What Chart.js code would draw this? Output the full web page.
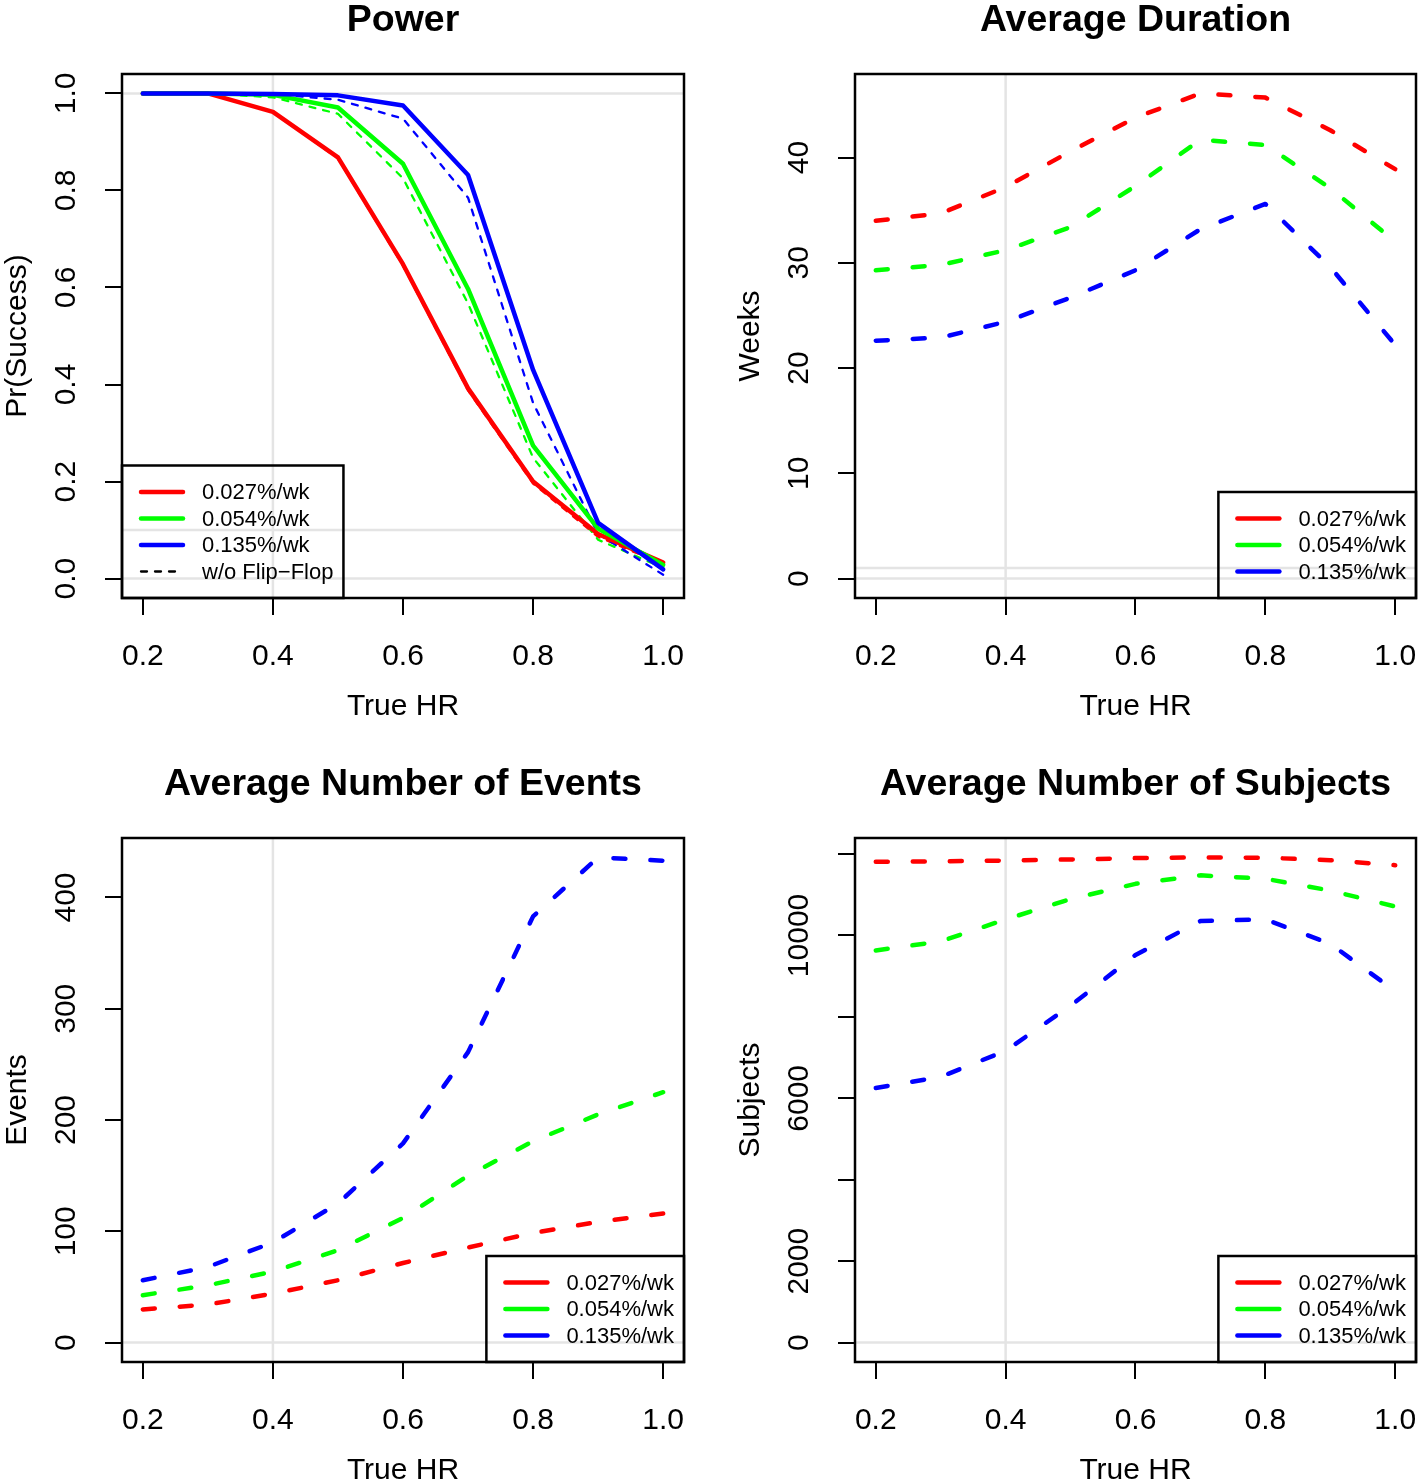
<!DOCTYPE html>
<html>
<head>
<meta charset="utf-8">
<script src="https://cdn.jsdelivr.net/npm/chart.js@4.4.1/dist/chart.umd.min.js"></script>
<style>
  html, body { margin: 0; padding: 0; background: #fff; }
  #page { position: relative; width: 1424px; height: 1480px; overflow: hidden; background: #fff; }
  #page canvas { position: absolute; }
</style>
</head>
<body>
<div id="page">
  <canvas id="power" width="712" height="740" style="left:0;top:0"></canvas>
  <canvas id="duration" width="712" height="740" style="left:712px;top:0"></canvas>
  <canvas id="events" width="712" height="740" style="left:0;top:740px"></canvas>
  <canvas id="subjects" width="712" height="740" style="left:712px;top:740px"></canvas>
</div>
<script>
// x values (true hazard ratio) and the three dropout rates
const trueHR = [0.2, 0.3, 0.4, 0.5, 0.6, 0.7, 0.8, 0.9, 1.0];
const rateLabels = ['0.027%/wk', '0.054%/wk', '0.135%/wk'];
const rateColors = ['#ff0000', '#00ff00', '#0000ff'];

// Power: with flip-flop (solid) and without (dashed)
const powerLow = [1.000, 1.000, 0.962, 0.868, 0.648, 0.392, 0.200, 0.092, 0.033];
const powerMid = [1.000, 1.000, 0.997, 0.971, 0.855, 0.597, 0.274, 0.103, 0.028];
const powerHigh = [1.000, 1.000, 0.999, 0.996, 0.975, 0.832, 0.430, 0.115, 0.019];
const powerLowNoFF = [1.000, 1.000, 0.962, 0.866, 0.645, 0.388, 0.196, 0.086, 0.030];
const powerMidNoFF = [1.000, 1.000, 0.992, 0.958, 0.825, 0.567, 0.249, 0.080, 0.022];
const powerHighNoFF = [1.000, 1.000, 0.999, 0.987, 0.948, 0.785, 0.362, 0.092, 0.008];

// Average duration (weeks)
const weeksLow = [34.0, 34.7, 37.2, 40.6, 43.8, 46.1, 45.7, 42.6, 38.9];
const weeksMid = [29.3, 29.8, 31.2, 33.4, 37.3, 41.7, 41.2, 37.1, 32.0];
const weeksHigh = [22.6, 22.9, 24.4, 26.7, 29.3, 33.2, 35.6, 29.6, 22.2];

// Average number of events
const eventsLow = [29.8, 34.2, 44.0, 56.0, 71.5, 85.5, 98.5, 108.5, 116];
const eventsMid = [42.6, 51.5, 63.8, 83.0, 112, 150, 181, 205, 225];
const eventsHigh = [56, 68, 90, 125, 179, 261, 383, 436, 433];

// Average number of subjects
const subjLow = [11810, 11820, 11840, 11867, 11900, 11917, 11909, 11850, 11725];
const subjMid = [9630, 9855, 10395, 10894, 11268, 11476, 11393, 11102, 10711];
const subjHigh = [6254, 6528, 7168, 8274, 9522, 10353, 10395, 9796, 8632];

// tick values and labels
const hrTicks = [0.2, 0.4, 0.6, 0.8, 1.0];
const hrTickLabels = ['0.2', '0.4', '0.6', '0.8', '1.0'];
const powerTicks = [0, 0.2, 0.4, 0.6, 0.8, 1.0];
const powerTickLabels = ['0.0', '0.2', '0.4', '0.6', '0.8', '1.0'];
const weekTicks = [0, 10, 20, 30, 40];
const weekTickLabels = ['0', '10', '20', '30', '40'];
const eventTicks = [0, 100, 200, 300, 400];
const eventTickLabels = ['0', '100', '200', '300', '400'];
const subjTicks = [0, 2000, 4000, 6000, 8000, 10000, 12000];
const subjTickLabels = ['0', '2000', '', '6000', '', '10000', ''];

const FONT = '"Liberation Sans", Arial, Helvetica, sans-serif';
const W = 712, H = 740;

// draws the R-like frame: reference lines, box, labels, titles, legend
function rFrame(o) {
  return {
    id: 'rFrame',
    beforeDatasetsDraw(chart) {
      const { ctx, chartArea: a, scales: { x, y } } = chart;
      ctx.save();
      ctx.beginPath();
      ctx.rect(a.left, a.top, a.width, a.height);
      ctx.clip();
      ctx.strokeStyle = '#e4e4e4';
      ctx.lineWidth = 2.5;
      o.refH.forEach(v => {
        const py = y.getPixelForValue(v);
        ctx.beginPath(); ctx.moveTo(a.left, py); ctx.lineTo(a.right, py); ctx.stroke();
      });
      o.refV.forEach(v => {
        const px = x.getPixelForValue(v);
        ctx.beginPath(); ctx.moveTo(px, a.top); ctx.lineTo(px, a.bottom); ctx.stroke();
      });
      ctx.restore();
    },
    afterDraw(chart) {
      const { ctx, chartArea: a, scales: { x, y } } = chart;
      ctx.save();
      ctx.strokeStyle = '#000';
      ctx.lineWidth = 2.5;
      ctx.strokeRect(a.left, a.top, a.width, a.height);

      ctx.fillStyle = '#000';
      // main title
      ctx.font = 'bold 37.5px ' + FONT;
      ctx.textAlign = 'center';
      ctx.textBaseline = 'alphabetic';
      ctx.fillText(o.title, (a.left + a.right) / 2, a.top - 43);

      // x tick labels + title
      ctx.font = '30px ' + FONT;
      ctx.textBaseline = 'middle';
      hrTicks.forEach((v, i) => ctx.fillText(hrTickLabels[i], x.getPixelForValue(v), a.bottom + 59));
      ctx.fillText('True HR', (a.left + a.right) / 2, a.bottom + 109);

      // y tick labels, rotated like R
      o.yTicks.forEach((v, i) => {
        if (!o.yLabels[i]) return;
        ctx.save();
        ctx.translate(a.left - 55, y.getPixelForValue(v));
        ctx.rotate(-Math.PI / 2);
        ctx.fillText(o.yLabels[i], 0, 0);
        ctx.restore();
      });
      ctx.save();
      ctx.translate(a.left - 104, (a.top + a.bottom) / 2);
      ctx.rotate(-Math.PI / 2);
      ctx.fillText(o.yTitle, 0, 0);
      ctx.restore();

      // legend
      ctx.font = '22px ' + FONT;
      const tw = Math.max(...o.legend.map(it => ctx.measureText(it.label).width));
      const row = 26.5;
      const lw = 80 + tw + 10, lh = row * (o.legend.length + 1);
      const x0 = o.legendCorner === 'bottomleft' ? a.left : a.right - lw;
      const y0 = a.bottom - lh;
      ctx.strokeStyle = '#000';
      ctx.lineWidth = 2.5;
      ctx.strokeRect(x0, y0, lw, lh);
      ctx.textAlign = 'left';
      o.legend.forEach((it, i) => {
        const yy = y0 + row * (i + 1);
        ctx.save();
        ctx.strokeStyle = it.color;
        ctx.lineWidth = it.width;
        ctx.lineCap = 'round';
        ctx.setLineDash(it.dash);
        ctx.beginPath(); ctx.moveTo(x0 + 19, yy); ctx.lineTo(x0 + 61, yy); ctx.stroke();
        ctx.restore();
        ctx.fillText(it.label, x0 + 80, yy + 1);
      });
      ctx.restore();
    }
  };
}

function panel(id, o) {
  const all = o.series.flatMap(s => s.data);
  const yMax = Math.max(...all);
  const ext = 0.04 * yMax;
  const tickGrid = { drawOnChartArea: false, drawTicks: true, tickLength: 17, color: '#000', lineWidth: 2 };
  new Chart(document.getElementById(id), {
    type: 'line',
    data: {
      datasets: o.series.map(s => ({
        data: trueHR.map((xv, i) => ({ x: xv, y: s.data[i] })),
        borderColor: s.color,
        borderWidth: s.width,
        borderDash: s.dash,
        borderCapStyle: 'round',
        borderJoinStyle: 'round',
        pointRadius: 0,
        tension: 0,
        fill: false
      }))
    },
    options: {
      responsive: false,
      animation: false,
      devicePixelRatio: 1,
      layout: { padding: { left: 0, top: o.area.top, right: W - o.area.right, bottom: 0 } },
      plugins: { legend: { display: false }, tooltip: { enabled: false }, title: { display: false } },
      scales: {
        x: {
          type: 'linear', min: 0.168, max: 1.032,
          afterBuildTicks: s => { s.ticks = hrTicks.map(v => ({ value: v })); },
          afterFit: s => { s.height = H - o.area.bottom; },
          ticks: { display: false },
          grid: tickGrid,
          border: { display: false }
        },
        y: {
          type: 'linear', min: -ext, max: yMax + ext,
          afterBuildTicks: s => { s.ticks = o.yTicks.map(v => ({ value: v })); },
          afterFit: s => { s.width = o.area.left; },
          ticks: { display: false },
          grid: tickGrid,
          border: { display: false }
        }
      }
    },
    plugins: [rFrame(o)]
  });
}

const solidLegend = rateLabels.map((label, i) => ({ label, color: rateColors[i], width: 4.5, dash: [] }));
const thick = 4.5, thickDash = [12, 25];

panel('power', {
  title: 'Power', yTitle: 'Pr(Success)',
  yTicks: powerTicks, yLabels: powerTickLabels,
  area: { left: 122, top: 74, right: 684, bottom: 598 },
  refH: [0, 0.1, 1], refV: [0.4],
  legendCorner: 'bottomleft',
  legend: solidLegend.concat([{ label: 'w/o Flip\u2212Flop', color: '#000', width: 2.3, dash: [6, 8] }]),
  // first dataset is drawn on top
  series: [
    { data: powerHigh, color: rateColors[2], width: thick, dash: [] },
    { data: powerMid, color: rateColors[1], width: thick, dash: [] },
    { data: powerLow, color: rateColors[0], width: thick, dash: [] },
    { data: powerHighNoFF, color: rateColors[2], width: 2.3, dash: [6, 8] },
    { data: powerMidNoFF, color: rateColors[1], width: 2.3, dash: [6, 8] },
    { data: powerLowNoFF, color: rateColors[0], width: 2.3, dash: [6, 8] }
  ]
});

panel('duration', {
  title: 'Average Duration', yTitle: 'Weeks',
  yTicks: weekTicks, yLabels: weekTickLabels,
  area: { left: 143, top: 74, right: 704, bottom: 598 },
  refH: [0, 1], refV: [0.4],
  legendCorner: 'bottomright', legend: solidLegend,
  series: [weeksLow, weeksMid, weeksHigh].map((d, i) => ({ data: d, color: rateColors[i], width: thick, dash: thickDash }))
});

panel('events', {
  title: 'Average Number of Events', yTitle: 'Events',
  yTicks: eventTicks, yLabels: eventTickLabels,
  area: { left: 122, top: 98, right: 684, bottom: 622 },
  refH: [0], refV: [0.4],
  legendCorner: 'bottomright', legend: solidLegend,
  series: [eventsLow, eventsMid, eventsHigh].map((d, i) => ({ data: d, color: rateColors[i], width: thick, dash: thickDash }))
});

panel('subjects', {
  title: 'Average Number of Subjects', yTitle: 'Subjects',
  yTicks: subjTicks, yLabels: subjTickLabels,
  area: { left: 143, top: 98, right: 704, bottom: 622 },
  refH: [0], refV: [0.4],
  legendCorner: 'bottomright', legend: solidLegend,
  series: [subjLow, subjMid, subjHigh].map((d, i) => ({ data: d, color: rateColors[i], width: thick, dash: thickDash }))
});
</script>
</body>
</html>
